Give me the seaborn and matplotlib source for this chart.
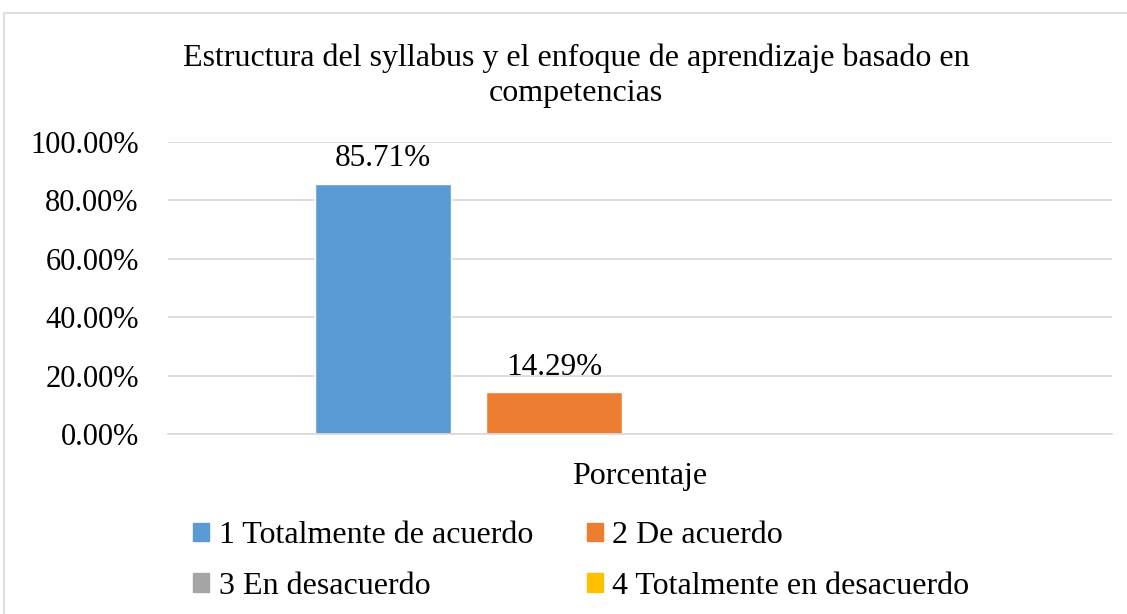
import pandas as pd
import matplotlib.pyplot as plt
import seaborn as sns
from matplotlib.patches import Rectangle
from matplotlib.ticker import FuncFormatter

# Data
groups = ["Porcentaje"]
responses = ["1 Totalmente de acuerdo", "2 De acuerdo",
             "3 En desacuerdo", "4 Totalmente en desacuerdo"]
values = [0.8571, 0.1429, 0.0, 0.0]
colors = ["#5B9BD5", "#ED7D31", "#A5A5A5", "#FFC000"]

df = pd.DataFrame({"grupo": groups * len(responses),
                   "respuesta": responses,
                   "valor": values})

sns.set_theme(style="white", rc={"text.color": "black",
                                 "xtick.color": "black", "ytick.color": "black"})
plt.rcParams["font.family"] = ["Liberation Serif", "DejaVu Serif"]

fig = plt.figure(figsize=(11.27, 6.14), dpi=100)
ax = fig.add_axes([0.149, 0.293, 0.838, 0.476])

sns.barplot(data=df, x="grupo", y="valor", hue="respuesta",
            palette=colors, width=0.727, gap=0.207, ax=ax,
            legend=False, saturation=1)

# data labels (only the non-zero bars show one)
for cont in ax.containers:
    for bar in cont:
        h = bar.get_height()
        if h > 0:
            ax.text(bar.get_x() + bar.get_width() / 2, h + 0.035,
                    f"{h * 100:.2f}%", ha="center", va="bottom", fontsize=22.5)

ax.set_ylim(0, 1.0)
ax.set_xlim(-0.5, 0.5)
ax.set_yticks([0, 0.2, 0.4, 0.6, 0.8, 1.0])
ax.yaxis.set_major_formatter(FuncFormatter(lambda v, p: f"{v * 100:.2f}%"))
ax.tick_params(axis="y", labelsize=22, length=0, pad=21)
ax.tick_params(axis="x", labelsize=23, length=0, pad=20)
ax.set_xlabel("")
ax.set_ylabel("")
ax.grid(axis="y", color="#d9d9d9", linewidth=1.2)
ax.set_axisbelow(True)
for s in ["top", "right", "left"]:
    ax.spines[s].set_visible(False)
ax.spines["bottom"].set_color("#d9d9d9")
ax.spines["bottom"].set_linewidth(1.2)

fig.text(0.511, 0.877, "Estructura del syllabus y el enfoque de aprendizaje basado en\ncompetencias",
         ha="center", va="center", fontsize=23, linespacing=1.25)

# legend filled row by row like the reference
handles = [Rectangle((0, 0), 1, 1, color=c) for c in colors]
order = [0, 2, 1, 3]
fig.legend([handles[i] for i in order], [responses[i] for i in order],
           loc="center left", bbox_to_anchor=(0.146, 0.0865),
           ncol=2, frameon=False, fontsize=23, handlelength=0.5, handleheight=0.5,
           handletextpad=0.3, columnspacing=1.67, labelspacing=0.68)

# outer chart border
fig.patches.append(Rectangle((4 / 1127, -0.1), 1.2, 1 - 13 / 614 + 0.1,
                             transform=fig.transFigure, fill=False,
                             edgecolor="#d9d9d9", linewidth=1.2))

fig.savefig("out.png", dpi=100)
